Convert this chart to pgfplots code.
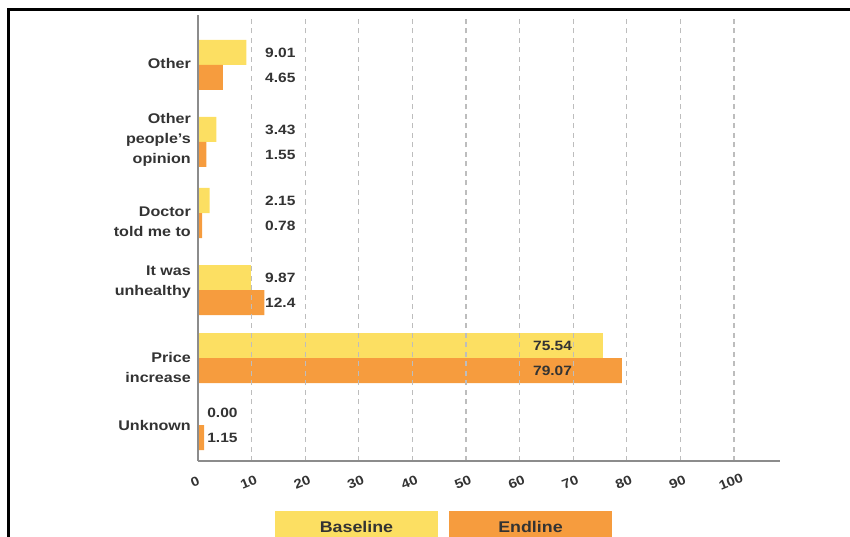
\documentclass[border=0pt]{standalone}
\usepackage{fontspec}
\setmainfont{Liberation Sans}[FakeStretch=1.15]
\usepackage{pgfplots}
\usepackage{pgfplotstable}
\pgfplotsset{compat=1.18}

\definecolor{baseyellow}{HTML}{FCDF62}
\definecolor{endorange}{HTML}{F69C3E}
\definecolor{gridgray}{HTML}{BDBDBD}
\definecolor{axisgray}{HTML}{8C8C8C}
\definecolor{textgray}{HTML}{333333}

% pos: vertical centre of each pair of bars; lx: where the value labels start
\pgfplotstableread{
pos  base   endl   lx    blab   elab
396  9.01   4.65   12.5  9.01   4.65
319  3.43   1.55   12.5  3.43   1.55
248  2.15   0.78   12.5  2.15   0.78
171  9.87   12.4   12.5  9.87   12.4
103  75.54  79.07  62.5  75.54  79.07
36   0.00   1.15   1.7   0.00   1.15
}\reasons

\begin{document}
\begin{tikzpicture}
% outer frame
\draw[black, line width=3pt] (8.5pt,-900pt) -- (8.5pt,-10pt) -- (900pt,-10pt);

\begin{axis}[
  at={(198pt,-461pt)}, anchor=south west,
  scale only axis, width=582pt, height=446pt,
  xmin=0, xmax=108.6, ymin=0, ymax=446,
  axis x line*=bottom, axis y line*=left,
  axis line style={draw=axisgray, line width=1.6pt, -},
  tick style={draw=none},
  xtick={0,10,...,100},
  xmajorgrids,
  grid style={draw=gridgray, line width=1.2pt, dash pattern=on 5pt off 4.5pt},
  axis on top,
  /pgf/number format/assume math mode=true,
  xticklabel style={xshift=-3pt, yshift=-21pt, rotate=22, anchor=center,
    inner sep=1pt, font=\fontsize{13}{15}\selectfont\bfseries, text=textgray},
  ytick={36,94,179,239,321,398},
  yticklabels={Unknown, {Price\\increase}, {It was\\unhealthy},
    {Doctor\\told me to}, {Other\\people's\\opinion}, Other},
  yticklabel style={align=right, inner sep=0pt, xshift=-7pt,
    font=\fontsize{14}{20}\selectfont\bfseries, text=textgray},
]
% bars
\addplot[xbar, bar width=25, bar shift=12.5, fill=baseyellow, draw=none]
  table[x=base, y=pos] {\reasons};
\addplot[xbar, bar width=25, bar shift=-12.5, fill=endorange, draw=none]
  table[x=endl, y=pos] {\reasons};
% value labels
\addplot[only marks, mark=*, mark size=0pt, mark options={draw=none, fill=none},
  nodes near coords, point meta=explicit symbolic,
  nodes near coords style={anchor=west, inner sep=0pt,
    font=\fontsize{13.5}{15}\selectfont\bfseries, text=textgray}]
  table[x=lx, y expr=\thisrow{pos}+12.5, meta=blab] {\reasons};
\addplot[only marks, mark=*, mark size=0pt, mark options={draw=none, fill=none},
  nodes near coords, point meta=explicit symbolic,
  nodes near coords style={anchor=west, inner sep=0pt,
    font=\fontsize{13.5}{15}\selectfont\bfseries, text=textgray}]
  table[x=lx, y expr=\thisrow{pos}-12.5, meta=elab] {\reasons};
\end{axis}

% legend
\fill[baseyellow] (275pt,-511pt) rectangle (438pt,-545pt);
\fill[endorange] (449pt,-511pt) rectangle (612pt,-545pt);
\node[font=\fontsize{15.5}{17}\selectfont\bfseries, text=textgray] at (356.5pt,-527pt) {Baseline};
\node[font=\fontsize{15.5}{17}\selectfont\bfseries, text=textgray] at (530.5pt,-527pt) {Endline};

\pgfresetboundingbox
\useasboundingbox (0pt,0pt) rectangle (850pt,-537pt);
\end{tikzpicture}
\end{document}
